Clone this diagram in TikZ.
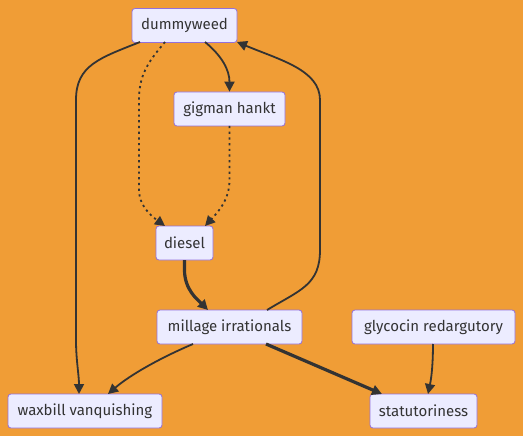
\documentclass[tikz,border=0pt]{standalone}
\usepackage{fontspec}
\setmainfont{Fira Sans}
\usetikzlibrary{arrows.meta}
\definecolor{bg}{RGB}{240,157,54}
\definecolor{nodefill}{RGB}{236,236,255}
\definecolor{nodeborder}{RGB}{147,112,219}
\definecolor{edge}{RGB}{51,51,51}
\tikzset{
  box/.style={draw=nodeborder, fill=nodefill, rounded corners=3pt, line width=0.8pt,
    text=edge, font=\fontsize{15}{17}\selectfont, minimum height=34pt, inner xsep=4pt, anchor=center},
  link/.style={draw=edge, line width=1.8pt, -{Triangle[length=10pt,width=10pt]}},
  thick link/.style={link, line width=3.2pt},
  dot link/.style={link, dash pattern=on 2.2pt off 3.5pt}
}
\begin{document}
\begin{tikzpicture}[x=1pt,y=-1pt]
\fill[bg] (0,0) rectangle (523,436);
\useasboundingbox (0,0) rectangle (523,436);
\node[box, minimum width=105pt] (dw) at (184.5,25.5) {dummyweed};
\node[box, minimum width=111pt] (gh) at (229.5,109) {gigman hankt};
\node[box, minimum width=57pt] (di) at (184.5,243) {diesel};
\node[box, minimum width=145pt] (mi) at (229.5,327) {millage irrationals};
\node[box, minimum width=163pt] (gr) at (433.5,327) {glycocin redargutory};
\node[box, minimum width=154pt] (wv) at (85,411) {waxbill vanquishing};
\node[box, minimum width=107pt] (st) at (423.5,411) {statutoriness};

\coordinate (dwA) at (205,42);
\coordinate (dwB) at (165,42);
\coordinate (dwC) at (140,42);
\coordinate (dwD) at (237,42);
\coordinate (ghB) at (229.5,126);
\coordinate (diT1) at (165,226);
\coordinate (diT2) at (205,226);
\coordinate (diB) at (184.5,260);
\coordinate (miT1) at (208,310);
\coordinate (miT2) at (267,310);
\coordinate (miB1) at (193,344);
\coordinate (miB2) at (266,344);
\coordinate (grB) at (433,344);
\coordinate (wvT1) at (79,394);
\coordinate (wvT2) at (108,394);
\coordinate (stT1) at (382,394);
\coordinate (stT2) at (428,394);

\draw[link] (dwA) .. controls (222,56) and (229.5,70) .. (ghB |- gh.north);
\draw[dot link] (dwB) .. controls (148,62) and (139,75) .. (139,100) -- (139,190) .. controls (139,205) and (150,215) .. (diT1);
\draw[dot link] (ghB) -- (229.5,180) .. controls (229.5,200) and (218,212) .. (diT2);
\draw[link] (dwC) .. controls (100,58) and (76,65) .. (76,100) -- (76,340) .. controls (76,360) and (79,375) .. (wvT1);
\draw[thick link] (diB) -- (184.5,270) .. controls (184.5,290) and (198,300) .. (miT1);
\draw[link] (miT2) .. controls (300,290) and (320,285) .. (320,250) -- (320,100) .. controls (320,70) and (280,60) .. (dwD);
\draw[link] (miB1) .. controls (160,358) and (130,375) .. (wvT2);
\draw[thick link] (miB2) -- (stT1);
\draw[link] (grB) .. controls (433,360) and (432,375) .. (stT2);
\end{tikzpicture}
\end{document}
